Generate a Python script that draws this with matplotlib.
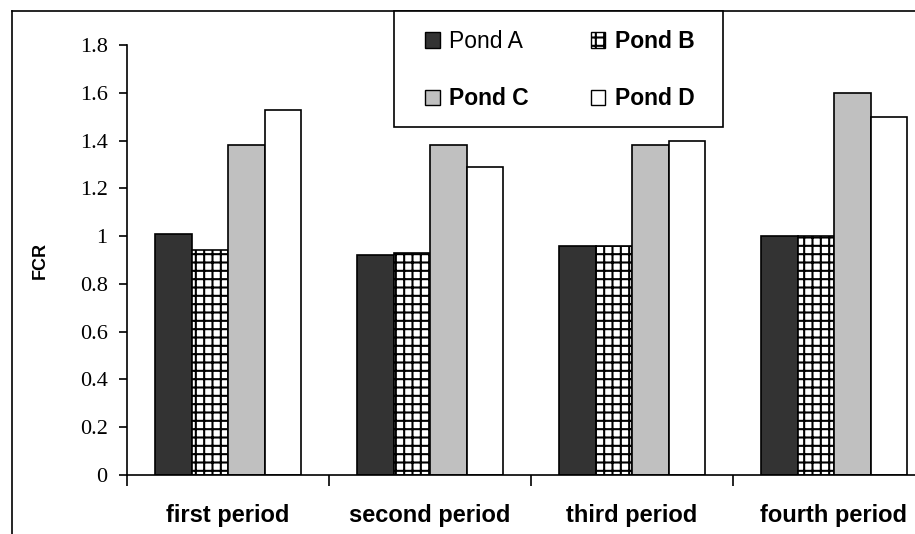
import numpy as np
import matplotlib
matplotlib.use("Agg")
import matplotlib.pyplot as plt
import matplotlib.patches as mpatches
from matplotlib.lines import Line2D

# data
periods = ["first period", "second period", "third period", "fourth period"]
ponds = ["Pond A", "Pond B", "Pond C", "Pond D"]
pond_a = [1.01, 0.92, 0.96, 1.00]
pond_b = [0.94, 0.93, 0.96, 1.00]
pond_c = [1.38, 1.38, 1.38, 1.60]
pond_d = [1.53, 1.29, 1.40, 1.50]
yticks = [0, 0.2, 0.4, 0.6, 0.8, 1, 1.2, 1.4, 1.6, 1.8]
ytick_labels = ["0", "0.2", "0.4", "0.6", "0.8", "1", "1.2", "1.4", "1.6", "1.8"]

series = [pond_a, pond_b, pond_c, pond_d]
faces = ["#333333", "white", "#c0c0c0", "white"]
hatches = [None, "++", None, None]

plt.rcParams['hatch.linewidth'] = 1.5
W, H = 915, 534
fig = plt.figure(figsize=(W / 100, H / 100), dpi=100)
ax = fig.add_axes([127 / W, 1 - 475 / H, 808 / W, (475 - 45) / H])

x = np.arange(len(periods)) + 0.5
bw = 36.5 / 202
for i, vals in enumerate(series):
    ax.bar(x + (i - 1.5) * bw, vals, bw, color=faces[i], edgecolor="black",
           linewidth=1.2, hatch=hatches[i], label=ponds[i], zorder=2)

ax.set_xlim(0, 4)
ax.set_ylim(0, 1.8)
for s in ["top", "right"]:
    ax.spines[s].set_visible(False)
ax.spines["left"].set_linewidth(1.2)
ax.spines["bottom"].set_linewidth(1.2)

ax.set_yticks(yticks)
ax.set_yticklabels(ytick_labels, family=["Liberation Serif", "DejaVu Serif"], fontsize=16)
ax.tick_params(axis="y", direction="out", length=6, width=1.2, pad=8)

ax.set_xticks([0, 1, 2, 3, 4])
ax.set_xticklabels([])
ax.tick_params(axis="x", which="major", direction="out", length=8, width=1.2)
ax.set_xticks(x, minor=True)
ax.set_xticklabels(periods, minor=True, fontsize=17, fontweight="bold", family="Liberation Sans")
ax.tick_params(axis="x", which="minor", length=0, pad=21)

ax.set_ylabel("FCR", fontsize=13, fontweight="bold", family="Liberation Sans", labelpad=22)

# legend fills column-wise, so order A, C, B, D gives rows A B / C D
order = [0, 2, 1, 3]
handles = [mpatches.Patch(facecolor=faces[i], edgecolor="black", hatch=hatches[i],
                          linewidth=1.0) for i in order]
leg = fig.legend(handles, [ponds[i] for i in order], ncol=2, loc="upper left",
                 bbox_to_anchor=(425 / W, 1 - 30 / H), borderaxespad=0,
                 prop={"family": "Liberation Sans", "size": 16.5},
                 handlelength=0.65, handleheight=0.65, handletextpad=0.4,
                 columnspacing=2.7, labelspacing=1.5, borderpad=0,
                 frameon=False)
for t in leg.get_texts():
    if t.get_text() != "Pond A":
        t.set_fontweight("bold")
# legend box
fig.add_artist(mpatches.Rectangle((394 / W, 1 - 127 / H), (723 - 394) / W, (127 - 11) / H,
                                  transform=fig.transFigure, facecolor="white",
                                  edgecolor="black", lw=1.2, zorder=3))
leg.set_zorder(4)

# outer chart border (cropped on right and bottom)
fig.add_artist(Line2D([12 / W, 1.0], [1 - 11 / H, 1 - 11 / H], color="black", lw=1.2))
fig.add_artist(Line2D([12 / W, 12 / W], [0, 1 - 11 / H], color="black", lw=1.2))

fig.savefig("out.png", dpi=100)
